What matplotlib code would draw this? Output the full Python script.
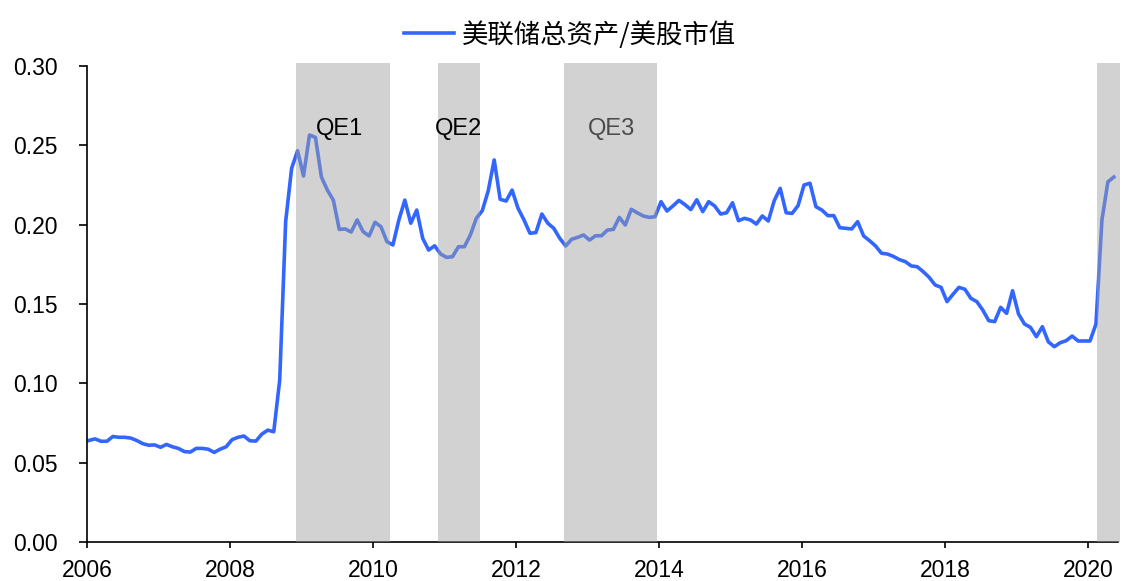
import matplotlib
matplotlib.use("Agg")
import matplotlib.pyplot as plt
import numpy as np

plt.rcParams['font.family'] = ['Liberation Sans', 'Noto Sans CJK SC', 'DejaVu Sans']

start_year = 2006
series_name = "美联储总资产/美股市值"
# monthly values, Jan 2006 .. May 2020
values = [
    0.064, 0.065, 0.0635, 0.0635, 0.0665, 0.066, 0.066, 0.0655, 0.064, 0.062,
    0.061, 0.0612, 0.0597, 0.0615, 0.060, 0.059, 0.057, 0.0567, 0.059, 0.059,
    0.0585, 0.0565, 0.0585, 0.060, 0.0645, 0.066, 0.0668, 0.0638, 0.0636, 0.068,
    0.0705, 0.0695, 0.102, 0.202, 0.2355, 0.2466, 0.2307, 0.2565, 0.255, 0.230,
    0.2218, 0.2155, 0.197, 0.1973, 0.1954, 0.203, 0.1956, 0.1929, 0.2015, 0.1987,
    0.1893, 0.1872, 0.203, 0.2155, 0.2009, 0.2092, 0.1914, 0.184, 0.1867, 0.1815,
    0.1794, 0.1798, 0.1861, 0.1861, 0.1935, 0.204, 0.2088, 0.2214, 0.2408, 0.2160,
    0.2149, 0.2218, 0.2103, 0.203, 0.1946, 0.195, 0.2067, 0.2009, 0.1977, 0.1914,
    0.1866, 0.1908, 0.192, 0.1935, 0.1903, 0.193, 0.193, 0.1966, 0.197, 0.2046,
    0.1998, 0.2097, 0.2075, 0.2055, 0.2046, 0.205, 0.2145, 0.2086, 0.2118, 0.2153,
    0.2127, 0.2095, 0.2157, 0.2082, 0.2145, 0.2118, 0.2067, 0.2075, 0.2138, 0.2025,
    0.204, 0.203, 0.2004, 0.2055, 0.2023, 0.2151, 0.2229, 0.2075, 0.2071, 0.212,
    0.225, 0.2261, 0.2113, 0.2092, 0.2057, 0.2057, 0.1981, 0.1977, 0.1973, 0.2019,
    0.1929, 0.1899, 0.1866, 0.182, 0.1815, 0.1800, 0.1780, 0.1767, 0.174, 0.1735,
    0.1704, 0.1668, 0.162, 0.1605, 0.1515, 0.1561, 0.1605, 0.1593, 0.1536, 0.1515,
    0.1462, 0.1395, 0.1389, 0.1479, 0.1441, 0.1584, 0.1437, 0.1374, 0.1353, 0.1294,
    0.1357, 0.1262, 0.1231, 0.1256, 0.1269, 0.1298, 0.1267, 0.1267, 0.1267, 0.1374,
    0.203, 0.227, 0.230,
]
qe_labels = ["QE1", "QE2", "QE3", None]
qe_start = [2008.92, 2010.91, 2012.67, 2020.13]
qe_end = [2010.24, 2011.50, 2013.97, 2020.45]
qe_label_x = [2009.53, 2011.19, 2013.33]
qe_label_y = 0.2605
xticks = list(range(2006, 2021, 2))
yticks = [0.00, 0.05, 0.10, 0.15, 0.20, 0.25, 0.30]

x = start_year + (np.arange(len(values)) + 0.35) / 12.0

fig = plt.figure(figsize=(11.22, 5.81), dpi=100)
ax = fig.add_axes([0.0775, 0.0671, 0.9189, 0.8193])

ax.plot(x, values, color='#3366FF', lw=2.6, label=series_name, zorder=2)

for i, (s, e) in enumerate(zip(qe_start, qe_end)):
    ax.axvspan(s, e, ymin=0, ymax=1.006, color='#a0a0a0', alpha=0.47, lw=0,
               zorder=3, clip_on=False)

ax.text(qe_label_x[0], qe_label_y, qe_labels[0], ha='center', va='center',
        fontsize=17, color='black', zorder=4)
ax.text(qe_label_x[1], qe_label_y, qe_labels[1], ha='center', va='center',
        fontsize=17, color='black', zorder=4)
ax.text(qe_label_x[2], qe_label_y, qe_labels[2], ha='center', va='center',
        fontsize=17, color='black', zorder=2)

ax.set_xlim(2006, 2020.42)
ax.set_ylim(0, 0.30)
ax.set_xticks(xticks)
ax.set_xticklabels([str(t) for t in xticks])
ax.set_yticks(yticks)
ax.set_yticklabels([f"{t:.2f}" for t in yticks])
ax.tick_params(axis='both', direction='out', labelsize=16.5, width=1.2,
               colors='black')
ax.tick_params(axis='y', length=6, pad=15)
ax.tick_params(axis='x', length=4, pad=8)
for side in ['top', 'right']:
    ax.spines[side].set_visible(False)
for side in ['left', 'bottom']:
    ax.spines[side].set_linewidth(1.2)
    ax.spines[side].set_color('black')

leg = fig.legend(loc='upper center', bbox_to_anchor=(0.508, 1.005), frameon=False,
                 handlelength=1.9, handletextpad=0.3,
                 prop={'family': ['Noto Sans CJK SC', 'DejaVu Sans'], 'size': 19})

fig.savefig("out.png", dpi=100)
